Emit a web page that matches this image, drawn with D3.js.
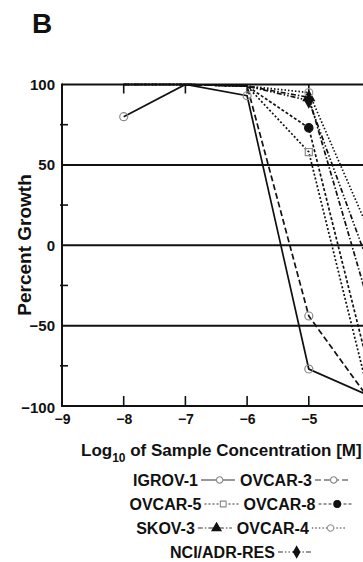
<!DOCTYPE html>
<html>
<head>
<meta charset="utf-8">
<script src="https://cdn.jsdelivr.net/npm/d3@7"></script>
<style>
  html, body { margin: 0; padding: 0; background: #fff; }
  svg { display: block; }
  text { font-family: "Liberation Sans", Arial, Helvetica, sans-serif; font-weight: bold; fill: #111; }
</style>
</head>
<body>
<svg id="chart" width="363" height="562"></svg>
<script>
// ---- data ----
const concentrations = [-8, -7, -6, -5, -4];
const seriesNames = ["IGROV-1", "OVCAR-3", "OVCAR-5", "OVCAR-8", "SKOV-3", "OVCAR-4", "NCI/ADR-RES"];
const igrov1    = [80, 100, 93, -77, -94];
const ovcar3    = [100, 100, 99, -44, -97];
const ovcar5    = [100, 100, 99, 58, -97];
const ovcar8    = [100, 100, 99, 73, -81];
const skov3     = [100, 100, 99, 92, -40];
const ovcar4    = [100, 100, 99, 95, 7];
const nciAdrRes = [100, 100, 99, 90, -15];
const xTicks = [-9, -8, -7, -6, -5, -4];
const yTicks = [-100, -50, 0, 50, 100];
const yMinorTicks = [-75, -25, 25, 75];
const panelLabel = "B";
const yTitle = "Percent Growth";

const seriesValues = [igrov1, ovcar3, ovcar5, ovcar8, skov3, ovcar4, nciAdrRes];

// ---- styles ----
const styles = [
  { dash: null,              marker: "circle",   fill: "none", stroke: "#8a8a8a" },
  { dash: "6,3",             marker: "circle",   fill: "none", stroke: "#8a8a8a" },
  { dash: "2,2",             marker: "square",   fill: "none", stroke: "#8a8a8a" },
  { dash: "3,2",             marker: "circle",   fill: "#111", stroke: "#111" },
  { dash: "5,2,1.5,2",       marker: "triangle", fill: "#111", stroke: "#111" },
  { dash: "1.5,2",           marker: "circle",   fill: "none", stroke: "#9a9a9a" },
  { dash: "5,2,1.5,2,1.5,2", marker: "diamond",  fill: "#111", stroke: "#111" }
];
const symbolType = { circle: d3.symbolCircle, square: d3.symbolSquare, triangle: d3.symbolTriangle, diamond: d3.symbolDiamond };

const svg = d3.select("#chart");
const x = d3.scaleLinear().domain([-9, -4]).range([62, 370.5]);
const y = d3.scaleLinear().domain([-100, 100]).range([406, 84.5]);
const W = 363;

// panel label
svg.append("text").attr("x", 32).attr("y", 33).attr("font-size", 28).text(panelLabel);

// gridlines / frame
const grid = svg.append("g");
yTicks.forEach(v => {
  grid.append("line").attr("x1", x(-9)).attr("x2", W + 5)
    .attr("y1", y(v)).attr("y2", y(v))
    .attr("stroke", "#111").attr("stroke-width", 2);
});
grid.append("line").attr("x1", x(-9)).attr("x2", x(-9)).attr("y1", y(100) - 1).attr("y2", y(-100) + 1)
  .attr("stroke", "#111").attr("stroke-width", 2);
yMinorTicks.forEach(v => {
  grid.append("line").attr("x1", x(-9) - 2).attr("x2", x(-9) + 6)
    .attr("y1", y(v)).attr("y2", y(v)).attr("stroke", "#111").attr("stroke-width", 1.6);
});
xTicks.filter(t => t > -9).forEach(t => {
  grid.append("line").attr("x1", x(t)).attr("x2", x(t)).attr("y1", y(-100)).attr("y2", y(-100) - 10)
    .attr("stroke", "#111").attr("stroke-width", 1.6);
  grid.append("line").attr("x1", x(t)).attr("x2", x(t)).attr("y1", y(100)).attr("y2", y(100) + 9)
    .attr("stroke", "#111").attr("stroke-width", 1.6);
});

// y tick labels via axis
const yAxis = svg.append("g").attr("transform", `translate(${x(-9)},0)`)
  .call(d3.axisLeft(y).tickValues(yTicks).tickSize(0).tickPadding(7).tickFormat(d3.format("d")));
yAxis.select(".domain").remove();
yAxis.selectAll("text").attr("font-size", 15).attr("font-family", "Liberation Sans, Arial, sans-serif")
  .attr("font-weight", "bold").attr("fill", "#111");
yAxis.selectAll(".tick").filter(d => d === -100).select("text").attr("dy", "0.45em");

// x tick labels via axis
const xAxis = svg.append("g").attr("transform", `translate(0,${y(-100)})`)
  .call(d3.axisBottom(x).tickValues(xTicks).tickSize(0).tickPadding(8).tickFormat(d3.format("d")));
xAxis.select(".domain").remove();
xAxis.selectAll("text").attr("font-size", 14).attr("font-family", "Liberation Sans, Arial, sans-serif")
  .attr("font-weight", "bold").attr("fill", "#111");

// y title
svg.append("text").attr("transform", `translate(31,245) rotate(-90)`)
  .attr("text-anchor", "middle").attr("font-size", 19).text(yTitle);

// x title
const xt = svg.append("text").attr("x", 81).attr("y", 456).attr("font-size", 17);
xt.append("tspan").text("Log");
xt.append("tspan").attr("font-size", 12).attr("dy", 6).text("10");
xt.append("tspan").attr("dy", -6).text(" of Sample Concentration [M]");

// series lines
const line = d3.line().x((d, i) => x(concentrations[i])).y(d => y(d));
const plot = svg.append("g");
seriesValues.forEach((vals, si) => {
  const st = styles[si];
  plot.append("path").datum(vals).attr("d", line)
    .attr("fill", "none").attr("stroke", "#111").attr("stroke-width", 1.7)
    .attr("stroke-dasharray", st.dash);
});
// markers (points lying on the 100% frame line are hidden under it in the original)
seriesValues.forEach((vals, si) => {
  const st = styles[si];
  const sym = d3.symbol().type(symbolType[st.marker]).size(st.fill === "none" ? 50 : 55);
  const pts = vals.map((v, i) => ({ v, c: concentrations[i] })).filter(p => p.v < 99);
  plot.selectAll(null).data(pts).enter().append("path")
    .attr("d", sym)
    .attr("transform", p => `translate(${x(p.c)},${y(p.v)})`)
    .attr("fill", st.fill === "none" ? "#fff" : st.fill)
    .attr("fill-opacity", st.fill === "none" ? 0 : 1)
    .attr("stroke", st.stroke).attr("stroke-width", 1.2);
});

// legend
const rows = [[0, 1], [2, 3], [4, 5], [6]];
const rowY = [480, 504, 528, 552];
const legend = svg.append("g");
rows.forEach((row, ri) => {
  const g = legend.append("g");
  let cx = 0;
  row.forEach((si, k) => {
    const st = styles[si];
    const t = g.append("text").attr("x", cx).attr("y", 6).attr("font-size", 16).text(seriesNames[si]);
    cx += t.node().getComputedTextLength() + 3;
    const sw = 34;
    g.append("line").attr("x1", cx).attr("x2", cx + sw).attr("y1", 0).attr("y2", 0)
      .attr("stroke", "#333").attr("stroke-width", 1.1).attr("stroke-dasharray", st.dash);
    g.append("path").attr("d", d3.symbol().type(symbolType[st.marker]).size(st.fill === "none" ? 32 : 36))
      .attr("transform", `translate(${cx + sw * 0.55},0)`)
      .attr("fill", st.fill === "none" ? "#fff" : st.fill)
      .attr("stroke", st.stroke).attr("stroke-width", 1.1);
    cx += sw + 5;
  });
  const total = cx - 5;
  g.attr("transform", `translate(${241 - total / 2},${rowY[ri]})`);
});
</script>
</body>
</html>
